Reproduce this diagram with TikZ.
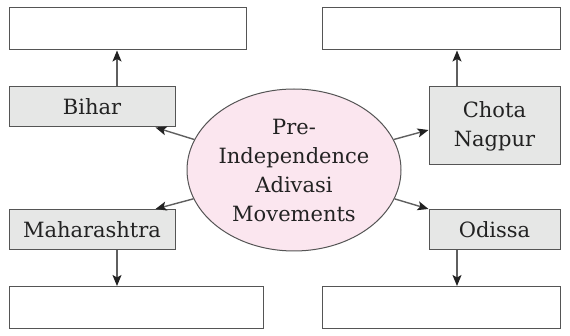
\documentclass[tikz,border=0pt]{standalone}
\usepackage{fontspec}
\setmainfont{DejaVu Serif}
\usepackage{xcolor}
\usetikzlibrary{arrows.meta,positioning,shapes.geometric}
\definecolor{statefill}{HTML}{E6E7E6}
\definecolor{hubfill}{HTML}{FBE6EF}
\definecolor{edgegray}{HTML}{555555}
\definecolor{linegray}{HTML}{5F5F5F}
\definecolor{textdark}{HTML}{222222}

\begin{document}
\begin{tikzpicture}[
  x=1pt,y=-1pt,
  state/.style={draw=edgegray,line width=1pt,fill=statefill,align=center,
                inner sep=0pt,minimum height=40pt,minimum width=166pt,
                text=textdark,font=\fontsize{21}{29}\selectfont},
  blank/.style={draw=edgegray,line width=1pt,fill=white,inner sep=0pt,
                minimum height=42pt},
  hub/.style={ellipse,draw=edgegray,line width=1pt,fill=hubfill,align=center,
              inner sep=0pt,minimum width=214pt,minimum height=162pt,
              text=textdark,font=\fontsize{21}{29}\selectfont},
  flow/.style={-{Stealth[length=11pt,width=9pt,inset=2.5pt,color=textdark]},
               line width=1.4pt,draw=linegray}
]
\useasboundingbox (0,0) rectangle (570,336);
% centre
\node[hub] (hub) at (294,170) {Pre-\\Independence\\Adivasi\\Movements};
% regions
\node[state] (bihar) at (92,107) {Bihar};
\node[state] (maha) at (92,229.5) {Maharashtra};
\node[state,minimum width=131pt,minimum height=78pt] (chota) at (494.5,126) {Chota\\Nagpur};
\node[state,minimum width=131pt] (odissa) at (494.5,229.5) {Odissa};
% empty answer boxes
\node[blank,minimum width=237pt] (topL) at (127.5,29) {};
\node[blank,minimum width=238pt] (topR) at (441,29) {};
\node[blank,minimum width=254pt] (botL) at (136,307.5) {};
\node[blank,minimum width=238pt] (botR) at (441,307.5) {};
% arrows
\draw[flow] (hub.163) -- ([xshift=-20pt]bihar.south east);
\draw[flow] (hub.17) -- ([yshift=-4pt]chota.west);
\draw[flow] (hub.196) -- ([xshift=-20pt]maha.north east);
\draw[flow] (hub.344) -- (odissa.north west);
\draw[flow] ([xshift=25pt]bihar.north) -- ([xshift=25pt]bihar.north |- topL.south);
\draw[flow] ([xshift=-37.5pt]chota.north) -- ([xshift=-37.5pt]chota.north |- topR.south);
\draw[flow] ([xshift=25pt]maha.south) -- ([xshift=25pt]maha.south |- botL.north);
\draw[flow] ([xshift=-37.5pt]odissa.south) -- ([xshift=-37.5pt]odissa.south |- botR.north);
\end{tikzpicture}
\end{document}
